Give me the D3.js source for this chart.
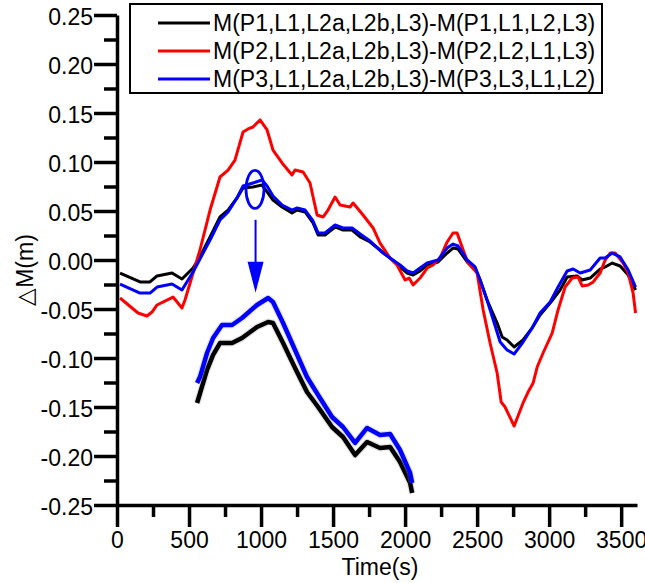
<!DOCTYPE html>
<html><head><meta charset="utf-8">
<script src="https://cdn.jsdelivr.net/npm/d3@7"></script>
<style>
html,body{margin:0;padding:0;background:#fff;}
svg{display:block;}
text{font-family:"Liberation Sans",Arial,Helvetica,sans-serif;fill:#000;}
</style>
</head><body>
<svg id="chart" width="645" height="583"></svg>
<script>
// ---------- data ----------
const seriesNames = [
  "M(P1,L1,L2a,L2b,L3)-M(P1,L1,L2,L3)",
  "M(P2,L1,L2a,L2b,L3)-M(P2,L2,L1,L3)",
  "M(P3,L1,L2a,L2b,L3)-M(P3,L3,L1,L2)"
];
const seriesColors = ["#000000", "#ff0000", "#0000ff"];

const p1Time  = [21,160,229,278,382,451,528,576,646,715,771,833,875,944,1007,1042,1083,1146,1215,1250,1306,1361,1396,1444,1514,1569,1632,1688,1757,1826,1896,1965,2014,2056,2104,2153,2229,2292,2333,2368,2431,2486,2521,2569,2639,2674,2708,2757,2819,2882,2937,3007,3076,3125,3194,3229,3285,3354,3389,3438,3493,3549,3600];
const p1Value = [-0.0133,-0.0224,-0.0224,-0.0163,-0.0133,-0.0194,-0.0082,0.0031,0.0235,0.0439,0.0510,0.0633,0.0735,0.0745,0.0765,0.0694,0.0612,0.0541,0.0480,0.0510,0.0490,0.0378,0.0255,0.0255,0.0337,0.0306,0.0306,0.0235,0.0184,0.0102,0.0020,-0.0071,-0.0133,-0.0153,-0.0112,-0.0051,-0.0020,0.0071,0.0122,0.0112,-0.0020,-0.0082,-0.0204,-0.0408,-0.0643,-0.0786,-0.0816,-0.0888,-0.0816,-0.0694,-0.0561,-0.0439,-0.0306,-0.0173,-0.0163,-0.0204,-0.0184,-0.0092,-0.0071,-0.0031,-0.0061,-0.0153,-0.0306];

const p2Time  = [21,146,208,243,278,389,451,472,576,646,715,771,819,875,910,944,993,1042,1083,1146,1215,1236,1292,1340,1389,1431,1465,1514,1549,1618,1639,1708,1778,1826,1896,1944,2000,2028,2056,2104,2153,2194,2243,2292,2333,2361,2403,2437,2500,2542,2590,2639,2667,2694,2757,2819,2854,2889,2917,2958,3021,3062,3111,3160,3201,3229,3271,3306,3354,3389,3424,3458,3514,3549,3583,3600];
const p2Value = [-0.0388,-0.0541,-0.0571,-0.0531,-0.0459,-0.0378,-0.0490,-0.0408,0.0102,0.0510,0.0847,0.0918,0.1020,0.1306,0.1337,0.1357,0.1429,0.1327,0.1122,0.0990,0.0867,0.0918,0.0898,0.0786,0.0459,0.0439,0.0510,0.0643,0.0561,0.0541,0.0582,0.0459,0.0327,0.0173,0.0020,-0.0051,-0.0204,-0.0184,-0.0255,-0.0184,-0.0082,-0.0051,0.0020,0.0184,0.0276,0.0276,0.0102,-0.0031,-0.0133,-0.0510,-0.0847,-0.1153,-0.1449,-0.1500,-0.1694,-0.1459,-0.1347,-0.1255,-0.1092,-0.0949,-0.0745,-0.0510,-0.0276,-0.0184,-0.0173,-0.0265,-0.0255,-0.0224,-0.0133,0.0000,0.0071,0.0071,-0.0031,-0.0133,-0.0337,-0.0541];

const p3Time  = [21,160,229,278,382,451,528,576,646,715,771,833,875,944,1007,1042,1083,1146,1215,1250,1306,1361,1396,1444,1514,1569,1632,1688,1757,1847,1896,1965,2014,2056,2104,2153,2229,2292,2333,2368,2431,2486,2521,2569,2660,2708,2757,2819,2882,2937,3007,3062,3125,3167,3215,3285,3354,3389,3438,3493,3549,3600];
const p3Value = [-0.0245,-0.0337,-0.0337,-0.0276,-0.0245,-0.0306,-0.0122,0.0010,0.0204,0.0408,0.0490,0.0633,0.0755,0.0786,0.0816,0.0755,0.0653,0.0561,0.0510,0.0531,0.0510,0.0398,0.0276,0.0276,0.0357,0.0327,0.0327,0.0265,0.0194,0.0071,0.0020,-0.0051,-0.0112,-0.0133,-0.0082,-0.0031,0.0000,0.0122,0.0163,0.0143,0.0000,-0.0071,-0.0204,-0.0408,-0.0837,-0.0918,-0.0959,-0.0837,-0.0694,-0.0541,-0.0429,-0.0276,-0.0112,-0.0092,-0.0133,-0.0102,0.0020,0.0020,0.0071,0.0031,-0.0102,-0.0276];

// magnified inset (drawn in main-axis units where it appears)
const insetP1Time  = [556,625,667,715,799,868,972,1049,1083,1153,1236,1319,1396,1493,1569,1653,1736,1826,1896,1965,2035,2049];
const insetP1Value = [-0.1459,-0.1122,-0.0969,-0.0847,-0.0847,-0.0796,-0.0684,-0.0633,-0.0643,-0.0847,-0.1102,-0.1347,-0.1500,-0.1704,-0.1806,-0.1990,-0.1857,-0.1918,-0.1908,-0.2061,-0.2276,-0.2378];
const insetP3Time  = [556,576,625,667,729,799,868,972,1049,1083,1153,1236,1319,1396,1493,1569,1653,1736,1826,1896,1965,2035,2049];
const insetP3Value = [-0.1255,-0.1194,-0.0949,-0.0796,-0.0663,-0.0663,-0.0592,-0.0459,-0.0388,-0.0429,-0.0643,-0.0918,-0.1194,-0.1378,-0.1602,-0.1704,-0.1867,-0.1714,-0.1786,-0.1776,-0.1939,-0.2173,-0.2276];

// annotation: ellipse around the peak and arrow pointing to the inset
const markCenter = [958, 0.072];
const arrowTime = 962;
const arrowFrom = 0.041, arrowTo = -0.0335;

const xTickValues = [0,500,1000,1500,2000,2500,3000,3500];
const xTickLabels = ["0","500","1000","1500","2000","2500","3000","3500"];
const xMinorTicks = [250,750,1250,1750,2250,2750,3250];
const yTickValues = [-0.25,-0.20,-0.15,-0.10,-0.05,0.00,0.05,0.10,0.15,0.20,0.25];
const yTickLabels = ["-0.25","-0.20","-0.15","-0.10","-0.05","0.00","0.05","0.10","0.15","0.20","0.25"];
const yMinorTicks = [-0.225,-0.175,-0.125,-0.075,-0.025,0.025,0.075,0.125,0.175,0.225];
const xTitle = "Time(s)";
const yTitle = "△M(m)";

// ---------- drawing ----------
const svg = d3.select("#chart");
const FS = 23;
const x = d3.scaleLinear().domain([0, 3610]).range([117, 637]);
const y = d3.scaleLinear().domain([-0.25, 0.25]).range([505, 15]);

const line = d3.line().x(d => x(d[0])).y(d => y(d[1])).curve(d3.curveLinear);
const zip = (a, b) => a.map((t, i) => [t, b[i]]);

const series = [zip(p1Time, p1Value), zip(p2Time, p2Value), zip(p3Time, p3Value)];
series.forEach((s, i) => {
  svg.append("path").datum(s).attr("d", line)
    .attr("fill", "none").attr("stroke", seriesColors[i])
    .attr("stroke-width", 3).attr("stroke-linejoin", "round");
});

// inset
const insetSeries = [[zip(insetP1Time, insetP1Value), seriesColors[0]], [zip(insetP3Time, insetP3Value), seriesColors[2]]];
insetSeries.forEach(([s, c]) => {
  svg.append("path").datum(s).attr("d", line)
    .attr("fill", "none").attr("stroke", "#999").attr("stroke-opacity", 0.25)
    .attr("stroke-width", 7).attr("stroke-linejoin", "round");
  svg.append("path").datum(s).attr("d", line)
    .attr("fill", "none").attr("stroke", c)
    .attr("stroke-width", 4.5).attr("stroke-linejoin", "round");
});

// ellipse + arrow
svg.append("ellipse")
  .attr("cx", x(markCenter[0])).attr("cy", y(markCenter[1]))
  .attr("rx", 9).attr("ry", 19)
  .attr("fill", "none").attr("stroke", "#0000ff").attr("stroke-width", 2.8);
const ax = x(arrowTime), ay1 = y(arrowFrom), ay2 = y(arrowTo);
svg.append("line").attr("x1", ax).attr("x2", ax).attr("y1", ay1).attr("y2", ay2 - 30)
  .attr("stroke", "#0000ff").attr("stroke-width", 2);
svg.append("path")
  .attr("d", `M${ax - 8},${ay2 - 31}L${ax + 8},${ay2 - 31}L${ax},${ay2}Z`)
  .attr("fill", "#0000ff");

// axes
const yAxisMinor = d3.axisLeft(y).tickValues(yMinorTicks).tickSize(13).tickFormat("");
const yAxis = d3.axisLeft(y).tickValues(yTickValues).tickSize(23).tickSizeOuter(0).tickPadding(1)
  .tickFormat((d, i) => yTickLabels[i]);
const xAxisMinor = d3.axisBottom(x).tickValues(xMinorTicks).tickSize(12).tickFormat("");
const xAxis = d3.axisBottom(x).tickValues(xTickValues).tickSize(22).tickSizeOuter(0).tickPadding(5)
  .tickFormat((d, i) => xTickLabels[i]);

function style(g) {
  g.select(".domain").attr("stroke", "#000").attr("stroke-width", 3.5);
  g.selectAll(".tick line").attr("stroke", "#000").attr("stroke-width", 3.5);
  g.selectAll("text").attr("font-size", FS).attr("font-family", null).attr("fill", "#000");
}
svg.append("g").attr("transform", "translate(117,0)").call(yAxisMinor).call(style).select(".domain").remove();
svg.append("g").attr("transform", "translate(0,505)").call(xAxisMinor).call(style).select(".domain").remove();
const gy = svg.append("g").attr("transform", "translate(117,0)").call(yAxis).call(style);
gy.selectAll("text").attr("dy", "0.4em");
svg.append("g").attr("transform", "translate(0,505)").call(xAxis).call(style);

// titles
svg.append("text").attr("x", 380).attr("y", 575).attr("text-anchor", "middle")
  .attr("font-size", FS).text(xTitle);
svg.append("text").attr("transform", "translate(33,270) rotate(-90)")
  .attr("text-anchor", "middle").attr("font-size", FS).text(yTitle);

// legend
const legend = svg.append("g");
legend.append("rect").attr("x", 130).attr("y", 4).attr("width", 472).attr("height", 89)
  .attr("fill", "#fff").attr("stroke", "#000").attr("stroke-width", 2);
seriesNames.forEach((name, i) => {
  const yy = 23 + i * 28;
  legend.append("line").attr("x1", 158).attr("x2", 210).attr("y1", yy).attr("y2", yy)
    .attr("stroke", seriesColors[i]).attr("stroke-width", 3);
  legend.append("text").attr("x", 213).attr("y", yy + 8).attr("font-size", FS).text(name);
});
</script>
</body></html>
